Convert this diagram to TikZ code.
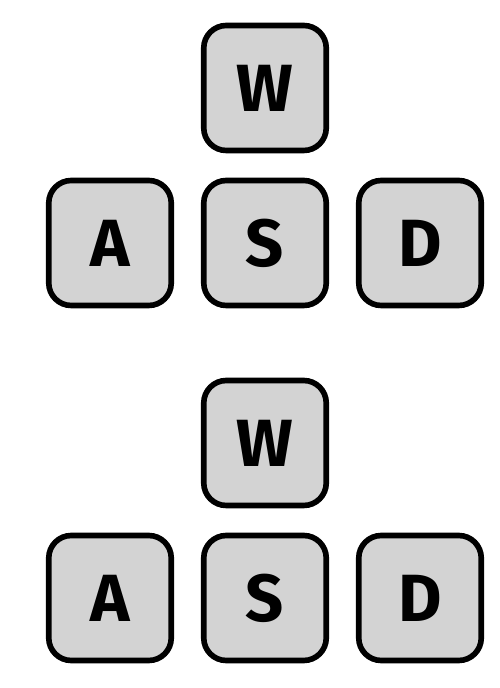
\documentclass[tikz,border=0pt]{standalone}
\usepackage{xcolor}
\usepackage{fontspec}
\setsansfont{Fira Sans}
\usepackage{tikz}
\definecolor{keygray}{HTML}{D3D3D3}

\begin{document}
\begin{tikzpicture}[-,node distance=3.1cm,key/.style={rectangle, rounded corners=0.45cm, draw, line width=3.2pt, fill=keygray, minimum width=2.45cm, minimum height=2.5cm, font=\sffamily\bfseries\fontsize{38}{38}\selectfont}]
			
			\useasboundingbox (0,0) rectangle (10,13.76);
			
			% upper set
			\node[key] (w1) at (5.3,12.0) {W};
			\node[key] (s1) [below of=w1] {S};
			\node[key] (a1) [left of=s1] {A};
			\node[key] (d1) [right of=s1] {D};
			
			% lower set
			\node[key] (w2) [below of=w1, yshift=-4cm] {W};
			\node[key] (s2) [below of=w2] {S};
			\node[key] (a2) [left of=s2] {A};
			\node[key] (d2) [right of=s2] {D};
			
		\end{tikzpicture}
\end{document}
